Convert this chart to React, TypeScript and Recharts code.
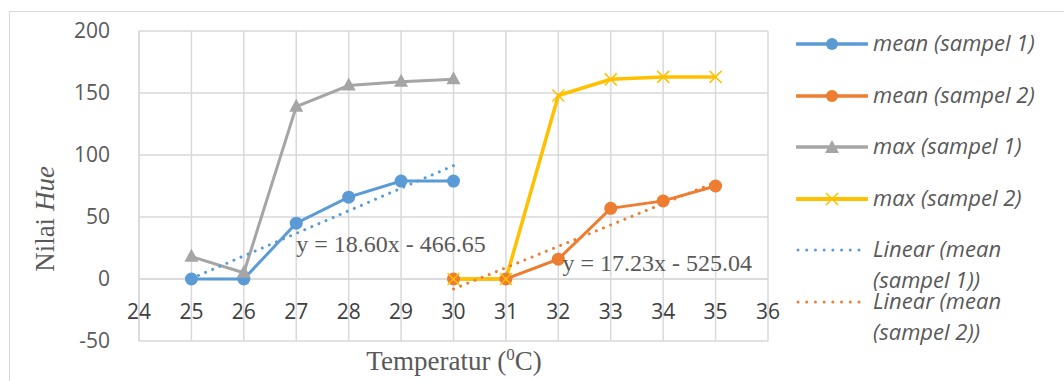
import React from "react";
import {
  LineChart,
  Line,
  XAxis,
  YAxis,
  CartesianGrid,
  ReferenceLine,
  ReferenceDot,
} from "recharts";

// data
const suhu1 = [25, 26, 27, 28, 29, 30];
const meanSampel1 = [0, 0, 45, 66, 79, 79];
const maxSampel1 = [18, 5, 139, 156, 159, 161];

const suhu2 = [30, 31, 32, 33, 34, 35];
const meanSampel2 = [0, 0, 16, 57, 63, 75];
const maxSampel2 = [0, 0, 148, 161, 163, 163];

// ujung garis trend
const trend1X = [25, 30];
const trend1Y = [0.4, 91.4];
const trend2X = [30, 35];
const trend2Y = [-8.1, 78.0];

const xTicks = [24, 25, 26, 27, 28, 29, 30, 31, 32, 33, 34, 35, 36];
const yTicks = [-50, 0, 50, 100, 150, 200];

const BLUE = "#5B9BD5";
const ORANGE = "#ED7D31";
const GRAY = "#A5A5A5";
const YELLOW = "#FFC000";
const TEXT = "#595959";
const GRID = "#d9d9d9";

const toPoints = (xs: number[], ys: number[]) => xs.map((x, i) => ({ x, y: ys[i] }));

const legendItems = [
  { label: ["mean (sampel 1)"], color: BLUE, kind: "circle" },
  { label: ["mean (sampel 2)"], color: ORANGE, kind: "circle" },
  { label: ["max (sampel 1)"], color: GRAY, kind: "triangle" },
  { label: ["max (sampel 2)"], color: YELLOW, kind: "cross" },
  { label: ["Linear (mean", "(sampel 1))"], color: BLUE, kind: "dots" },
  { label: ["Linear (mean", "(sampel 2))"], color: ORANGE, kind: "dots" },
];

const Triangle = (props: any) => {
  const { cx, cy } = props;
  if (cx == null || cy == null) return null;
  return (
    <path
      d={`M${cx},${cy - 8} L${cx + 7},${cy + 5} L${cx - 7},${cy + 5} Z`}
      fill={GRAY}
    />
  );
};

const Cross = (props: any) => {
  const { cx, cy } = props;
  if (cx == null || cy == null) return null;
  return (
    <path
      d={`M${cx - 6},${cy - 6} L${cx + 6},${cy + 6} M${cx - 6},${cy + 6} L${cx + 6},${cy - 6}`}
      stroke={YELLOW}
      strokeWidth={1.5}
    />
  );
};

const XTick = (props: any) => {
  const { x, y, payload } = props;
  return (
    <text
      x={x}
      y={y - 30}
      textAnchor="middle"
      fill="#404040"
      fontSize={21}
      fontFamily="'Open Sans', sans-serif"
    >
      {payload.value}
    </text>
  );
};

const YTick = (props: any) => {
  const { x, y, payload } = props;
  return (
    <text
      x={x - 21}
      y={y + 7}
      textAnchor="end"
      fill={TEXT}
      fontSize={21}
      fontFamily="'Open Sans', sans-serif"
    >
      {payload.value}
    </text>
  );
};

const TrendLabel = (text: string) => (props: any) => {
  const { viewBox } = props;
  return (
    <text
      x={viewBox.x}
      y={viewBox.y}
      fill={TEXT}
      fontSize={24}
      fontFamily="'Liberation Serif', serif"
    >
      {text}
    </text>
  );
};

const LegendIcon = ({ color, kind }: { color: string; kind: string }) => (
  <svg width={72} height={14} style={{ display: "block" }}>
    {kind === "dots" ? (
      <line
        x1={2}
        y1={7}
        x2={64}
        y2={7}
        stroke={color}
        strokeWidth={3}
        strokeDasharray="0.01 8.7"
        strokeLinecap="round"
      />
    ) : (
      <line x1={1} y1={7} x2={71} y2={7} stroke={color} strokeWidth={kind === "cross" ? 4 : 3.5} strokeLinecap="round" />
    )}
    {kind === "circle" && <circle cx={36} cy={7} r={6} fill={color} />}
    {kind === "triangle" && <path d="M36,0 L43,13 L29,13 Z" fill={color} />}
    {kind === "cross" && (
      <path d="M30,1 L42,13 M30,13 L42,1" stroke={color} strokeWidth={1.5} />
    )}
  </svg>
);

const ChartLegend = () => (
  <div
    style={{
      position: "absolute",
      left: 796,
      top: 27,
      fontFamily: "'Open Sans', sans-serif",
      fontStyle: "italic",
      color: TEXT,
      fontSize: 22,
    }}
  >
    {legendItems.map((item) => (
      <div
        key={item.label.join(" ")}
        style={{ display: "flex", alignItems: "flex-start", height: item.label.length > 1 ? 52 : 51.5 }}
      >
        <div style={{ width: 77, paddingTop: 10 }}>
          <LegendIcon color={item.color} kind={item.kind} />
        </div>
        <div style={{ lineHeight: "31px", whiteSpace: "nowrap" }}>
          {item.label.map((l) => (
            <div key={l}>{l}</div>
          ))}
        </div>
      </div>
    ))}
  </div>
);

export default function App() {
  return (
    <div style={{ position: "absolute", left: 0, top: 0, width: 1064, height: 381, background: "#fff", overflow: "hidden" }}>
      <div
        style={{
          position: "absolute",
          left: 9,
          top: 11,
          width: 1060,
          height: 380,
          borderTop: `1.5px solid ${GRID}`,
          borderLeft: `1.5px solid ${GRID}`,
        }}
      />
      <div style={{ position: "absolute", left: 0, top: 0 }}>
        <LineChart width={1064} height={381} margin={{ top: 31, right: 296, bottom: 0, left: 0 }}>
          <CartesianGrid stroke={GRID} strokeWidth={1.5} />
          <XAxis
            type="number"
            dataKey="x"
            domain={[24, 36]}
            ticks={xTicks}
            interval={0}
            allowDataOverflow
            height={40}
            axisLine={false}
            tickLine={false}
            tick={<XTick />}
          />
          <YAxis
            type="number"
            dataKey="y"
            domain={[-50, 200]}
            ticks={yTicks}
            interval={0}
            width={139}
            axisLine={{ stroke: GRID, strokeWidth: 1.5 }}
            tickLine={false}
            tick={<YTick />}
          />
          <ReferenceLine y={0} stroke={GRID} strokeWidth={1.5} />
          <Line
            data={toPoints(suhu1, meanSampel1)}
            dataKey="y"
            name="mean (sampel 1)"
            stroke={BLUE}
            strokeWidth={3}
            dot={{ r: 6.5, fill: BLUE, stroke: BLUE, strokeWidth: 0 }}
            isAnimationActive={false}
          />
          <Line
            data={toPoints(suhu2, meanSampel2)}
            dataKey="y"
            name="mean (sampel 2)"
            stroke={ORANGE}
            strokeWidth={3}
            dot={{ r: 6.5, fill: ORANGE, stroke: ORANGE, strokeWidth: 0 }}
            isAnimationActive={false}
          />
          <Line
            data={toPoints(suhu1, maxSampel1)}
            dataKey="y"
            name="max (sampel 1)"
            stroke={GRAY}
            strokeWidth={3}
            dot={<Triangle />}
            isAnimationActive={false}
          />
          <Line
            data={toPoints(suhu2, maxSampel2)}
            dataKey="y"
            name="max (sampel 2)"
            stroke={YELLOW}
            strokeWidth={3.5}
            dot={<Cross />}
            isAnimationActive={false}
          />
          <Line
            data={toPoints(trend1X, trend1Y)}
            dataKey="y"
            name="Linear (mean (sampel 1))"
            stroke={BLUE}
            strokeWidth={3}
            strokeDasharray="0.01 7.7"
            strokeLinecap="round"
            dot={false}
            isAnimationActive={false}
          />
          <Line
            data={toPoints(trend2X, trend2Y)}
            dataKey="y"
            name="Linear (mean (sampel 2))"
            stroke={ORANGE}
            strokeWidth={3}
            strokeDasharray="0.01 7.7"
            strokeLinecap="round"
            dot={false}
            isAnimationActive={false}
          />
          <ReferenceDot x={27.0} y={21.8} r={0} fill="none" stroke="none" label={TrendLabel("y = 18.60x - 466.65")} />
          <ReferenceDot x={32.08} y={6.5} r={0} fill="none" stroke="none" label={TrendLabel("y = 17.23x - 525.04")} />
        </LineChart>
      </div>
      <ChartLegend />
      <div
        style={{
          position: "absolute",
          left: 45,
          top: 219,
          transform: "translate(-50%, -50%) rotate(-90deg)",
          fontFamily: "'Liberation Serif', serif",
          fontSize: 27,
          color: TEXT,
          whiteSpace: "nowrap",
        }}
      >
        Nilai <i>Hue</i>
      </div>
      <div
        style={{
          position: "absolute",
          left: 454,
          top: 361,
          transform: "translate(-50%, -50%)",
          fontFamily: "'Liberation Serif', serif",
          fontSize: 27,
          color: TEXT,
          whiteSpace: "nowrap",
        }}
      >
        Temperatur (<sup style={{ fontSize: 17 }}>0</sup>C)
      </div>
    </div>
  );
}
